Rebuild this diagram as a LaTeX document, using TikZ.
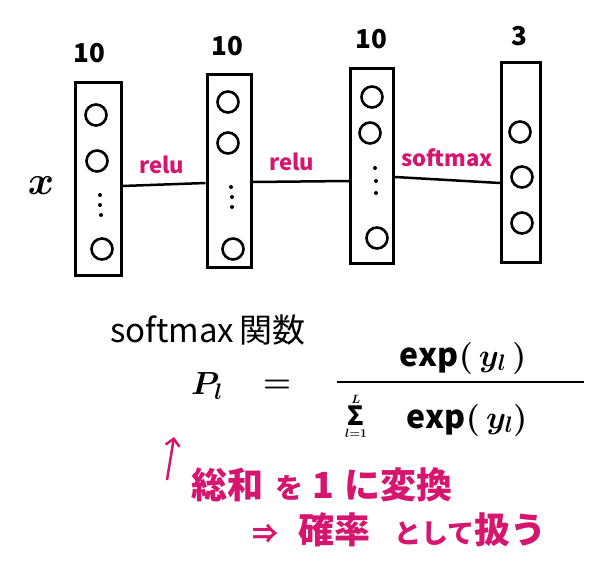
\RequirePackage{fix-cm}
\documentclass[tikz,border=0pt]{standalone}
\usepackage{amsmath}
\usepackage{graphicx}
\usepackage{fontspec}
\setmainfont{Noto Sans CJK JP}
\usetikzlibrary{arrows.meta}
\definecolor{mag}{RGB}{214,22,110}
\tikzset{
  layerbox/.style={draw, line width=3pt, inner sep=0pt},
  unit/.style={circle, draw, line width=2.6pt, minimum size=21pt, inner sep=0pt},
  dotmark/.style={circle, fill, inner sep=0pt, minimum size=4pt},
  numlbl/.style={inner sep=0pt, font=\fontsize{26}{26}\selectfont\bfseries},
  actlbl/.style={inner sep=0pt, text=mag, font=\fontsize{22}{22}\selectfont\bfseries},
  wire/.style={line width=2.5pt},
  jpbig/.style={inner sep=0pt, text=mag, font=\fontsize{36}{36}\selectfont\bfseries},
  formula/.style={inner sep=0pt, font=\fontsize{32}{32}\selectfont\boldmath}
}
\begin{document}
\begin{tikzpicture}[x=1pt,y=-1pt]
\useasboundingbox[fill=white] (0,0) rectangle (616,575);

% layer boxes
\node[layerbox, minimum width=46pt, minimum height=192pt] (b1) at (98,179) {};
\node[layerbox, minimum width=44pt, minimum height=192pt] (b2) at (229,171) {};
\node[layerbox, minimum width=43pt, minimum height=194pt] (b3) at (372,166) {};
\node[layerbox, minimum width=39pt, minimum height=199pt] (b4) at (521,162.5) {};

% sizes
\node[numlbl] (n1) at (89,53) {10};
\node[numlbl] (n2) at (227,46) {10};
\node[numlbl] (n3) at (371,39) {10};
\node[numlbl] (n4) at (519,36) {3};

% units
\node[unit] (u11) at (96,115) {};
\node[unit] (u12) at (97,161) {};
\node[dotmark] (v1a) at (100,195) {};
\node[dotmark] (v1b) at (100,205) {};
\node[dotmark] (v1c) at (101,215) {};
\node[unit] (u14) at (102,249) {};

\node[unit] (u21) at (228,102) {};
\node[unit] (u22) at (228,143) {};
\node[dotmark] (v2a) at (231,187) {};
\node[dotmark] (v2b) at (232,197) {};
\node[dotmark] (v2c) at (232,207) {};
\node[unit] (u24) at (233,249) {};

\node[unit] (u31) at (372,97) {};
\node[unit] (u32) at (370,133) {};
\node[dotmark] (v3a) at (375,168) {};
\node[dotmark] (v3b) at (376,181) {};
\node[dotmark] (v3c) at (376,193) {};
\node[unit] (u34) at (377,238) {};

\node[unit] (u41) at (520,132) {};
\node[unit] (u42) at (522,177) {};
\node[unit] (u43) at (522,223) {};

% input label
\node[inner sep=0pt, font=\fontsize{40}{40}\selectfont\boldmath] (xin) at (41,186) {$x$};

% connections
\draw[wire] (b1.east |- 0,186) -- (b2.west |- 0,183);
\draw[wire] (b2.east |- 0,182) -- (b3.west |- 0,181);
\draw[wire] (b3.east |- 0,177) -- (b4.west |- 0,183);

\node[actlbl] (r1) at (162,165) {relu};
\node[actlbl] (r2) at (292,162) {relu};
\node[actlbl] (r3) at (447,158) {softmax};

% formula
\node[inner sep=0pt, font=\fontsize{33}{33}\selectfont] (smt) at (208,330) {softmax\,関数};
\node[formula] (pl) at (207,386) {$P_l$};
\node[formula] (eq) at (277,386) {$=$};
\node[formula] (numer) at (463,358) {$\exp(\,y_l\,)$};
\coordinate (fl) at (337,382);
\coordinate (fr) at (584,382);
\draw[line width=2.6pt] (fl) -- (fr);
\node[inner sep=0pt, font=\fontsize{12}{12}\selectfont\boldmath] (sig) at (356,418)
  {\begin{tabular}{@{}c@{}}$L$\\[-1pt]\scalebox{2.2}{\bfseries Σ}\\[0pt]$l{=}1$\end{tabular}};
\node[formula] (denom) at (467,420) {$\exp(\,y_l)$};

% note
\coordinate (a0) at (167,480);
\coordinate (a1) at (174,437);
\draw[mag, line width=2.5pt, -{Straight Barb[length=7pt,width=14pt]}] (a0) -- (a1);
\node[jpbig, anchor=west] (t1) at (191,485)
  {総和\hspace{12pt}{\fontsize{28}{28}\selectfont を}\hspace{9pt}1\hspace{10pt}に変換};
\node[jpbig, anchor=west] (t2) at (252,530)
  {{\fontsize{26}{26}\selectfont ⇒}\hspace{20pt}確率\hspace{24pt}{\fontsize{27}{27}\selectfont として}扱う};
\end{tikzpicture}
\end{document}
